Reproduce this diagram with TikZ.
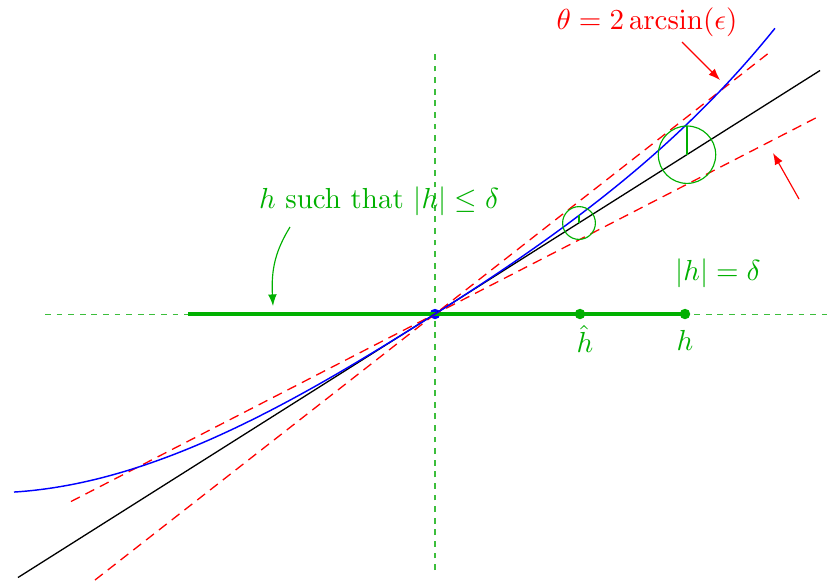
\documentclass[tikz,border=0pt]{standalone}
\usetikzlibrary{arrows.meta}
\definecolor{fgreen}{RGB}{0,176,0}
\definecolor{lgreen}{RGB}{60,190,60}
\begin{document}
\begin{tikzpicture}[x=0.345pt,y=-0.345pt,
  axisline/.style={lgreen, dash pattern=on 2pt off 2pt, line width=0.35pt},
  redline/.style={red, dash pattern=on 3.4pt off 2.2pt, line width=0.45pt},
  greendot/.style={circle, fill=fgreen, inner sep=0pt, minimum size=3.6pt},
  bluedot/.style={circle, fill=blue, inner sep=0pt, minimum size=3.6pt},
  glabel/.style={text=fgreen, inner sep=1pt},
  rlabel/.style={text=red, inner sep=1pt},
  tip/.style={-{Latex[length=4pt,width=3pt]}}]
\useasboundingbox (0,0) rectangle (827,581);
% key coordinates
\coordinate (O) at (435,314);
\coordinate (axL) at (45,314);
\coordinate (axR) at (827,314);
\coordinate (axT) at (435,52);
\coordinate (axB) at (435,570);
\coordinate (hl) at (188,314);
\coordinate (blkA) at (18,577.5);
\coordinate (blkB) at (820,70.5);
\coordinate (stA) at (95,580);
\coordinate (stB) at (770,52);
\coordinate (shA) at (71,501.5);
\coordinate (shB) at (818,116.8);
\coordinate (c1) at (579,223);
\coordinate (c1t) at (579,215.4);
\coordinate (c2) at (687,154.7);
\coordinate (c2t) at (687,126);
% axes
\draw[axisline] (axL) -- (axR);
\draw[axisline] (axB) -- (axT);
% blue dot at origin
\node[bluedot] (o) at (O) {};
% thick segment and points
\node[greendot] (hhat) at (580,314) {};
\node[greendot] (hpt) at (685,314) {};
\draw[fgreen, line width=1.1pt] (hl) -- (hpt.center);
% black line
\draw[black, line width=0.45pt] (blkA) -- (blkB);
% red dashed lines
\draw[redline] (stA) -- (stB);
\draw[redline] (shA) -- (shB);
% blue curve
\draw[blue, line width=0.5pt]
  plot[domain=-4.21:0, samples=90, variable=\t, smooth]
    ({435+100*\t}, {314-63.2*\t-(1.38*\t*\t-0.852*\t*\t*\t)})
  -- plot[domain=0:3.40, samples=80, variable=\t, smooth]
    ({435+100*\t}, {314-63.2*\t-(2.8*\t*\t+0.3*\t*\t*\t+0.2*\t*\t*\t*\t)});
% circles and ticks
\draw[fgreen, line width=0.4pt] (c1) circle[radius=16.4];
\draw[fgreen, line width=0.4pt] (c1) -- (c1t);
\draw[fgreen, line width=0.4pt] (c2) circle[radius=28.7];
\draw[fgreen, line width=0.4pt] (c2) -- (c2t);
% labels
\node[glabel] (lhhat) at (585,339) {$\hat{h}$};
\node[glabel] (lh) at (685,340) {$h$};
\node[glabel] (ldelta) at (718,273) {$|h|=\delta$};
\node[glabel] (lsuch) at (379,201) {$h$ such that $|h|\le\delta$};
\node[rlabel] (ltheta) at (647,22) {$\theta=2\arcsin(\epsilon)$};
% arrows
\coordinate (ga) at (290,227);
\coordinate (gb) at (273,306);
\draw[fgreen, line width=0.4pt, tip] (ga) .. controls (276,250) and (271,268) .. (gb);
\coordinate (ra1) at (682,42);
\coordinate (ra2) at (720,80);
\draw[red, line width=0.4pt, tip] (ra1) -- (ra2);
\coordinate (rb1) at (799,199);
\coordinate (rb2) at (773,153);
\draw[red, line width=0.4pt, tip] (rb1) -- (rb2);
\end{tikzpicture}
\end{document}
